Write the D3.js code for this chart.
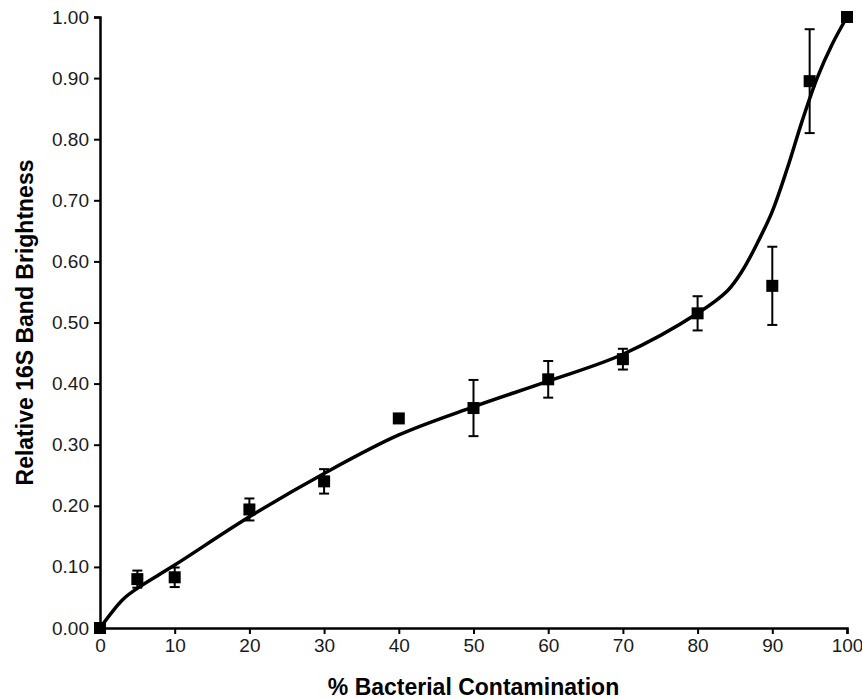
<!DOCTYPE html>
<html>
<head>
<meta charset="utf-8">
<script src="https://cdn.jsdelivr.net/npm/d3@7"></script>
<style>
    body { margin: 0; background: #fff; }
    svg { display: block; font-family: "Liberation Sans", Arial, sans-serif; }
</style>
</head>
<body>
<div id="chart"></div>
<script>
// Measured points: % contamination vs relative band brightness
const contamination = [0, 5, 10, 20, 30, 40, 50, 60, 70, 80, 90, 95, 100];
const brightness = [0.000, 0.080, 0.083, 0.194, 0.240, 0.343, 0.360, 0.407, 0.440, 0.515, 0.560, 0.895, 1.000];
const errors = [0, 0.014, 0.016, 0.018, 0.020, 0, 0.046, 0.030, 0.017, 0.028, 0.064, 0.085, 0];

// Fitted curve
const fitX = [0, 3, 5, 10, 20, 30, 40, 50, 60, 70, 80, 84, 86, 88, 90, 92, 94, 96, 98, 100];
const fitY = [0, 0.046, 0.065, 0.103, 0.182, 0.253, 0.316, 0.362, 0.404, 0.448, 0.515, 0.552, 0.585, 0.630, 0.682, 0.752, 0.830, 0.900, 0.955, 1.0];

const xTicks = [0, 10, 20, 30, 40, 50, 60, 70, 80, 90, 100];
const yTicks = [0, 0.1, 0.2, 0.3, 0.4, 0.5, 0.6, 0.7, 0.8, 0.9, 1.0];

const margin = { top: 17, right: 15, bottom: 71, left: 100 };
const width = 862 - margin.left - margin.right;
const height = 699 - margin.top - margin.bottom;

const svg = d3.select("#chart").append("svg")
    .attr("width", 862)
    .attr("height", 699);

const g = svg.append("g")
    .attr("transform", `translate(${margin.left},${margin.top})`);

const x = d3.scaleLinear().domain([0, 100]).range([0, 747]);
const y = d3.scaleLinear().domain([0, 1]).range([height, 0]);

// axes
const xAxis = g.append("g")
    .attr("transform", `translate(0,${height})`)
    .call(d3.axisBottom(x).tickValues(xTicks).tickSize(6).tickSizeOuter(6).tickPadding(5).tickFormat(d3.format("d")));

const yAxis = g.append("g")
    .call(d3.axisLeft(y).tickValues(yTicks).tickSize(6).tickSizeOuter(6).tickPadding(5).tickFormat(d3.format(".2f")));

[xAxis, yAxis].forEach(a => {
    a.select(".domain").attr("stroke", "#000").attr("stroke-width", 2.5);
    a.selectAll(".tick line").attr("stroke", "#000").attr("stroke-width", 2);
    a.selectAll("text")
        .style("font-size", "19px")
        .style("fill", "#1a1a1a")
        .style("font-family", "'Liberation Sans', Arial, sans-serif");
});

// fitted curve
const fit = fitX.map((v, i) => ({ x: v, y: fitY[i] }));
g.append("path")
    .datum(fit)
    .attr("fill", "none")
    .attr("stroke", "#000")
    .attr("stroke-width", 3.5)
    .attr("d", d3.line().x(d => x(d.x)).y(d => y(d.y)).curve(d3.curveCatmullRom.alpha(0.5)));

// error bars
const points = contamination.map((v, i) => ({ x: v, y: brightness[i], e: errors[i] }));
const bars = g.selectAll(".err")
    .data(points.filter(d => d.e > 0))
    .enter().append("g")
    .attr("class", "err")
    .attr("stroke", "#000")
    .attr("stroke-width", 2);

bars.append("line")
    .attr("x1", d => x(d.x)).attr("x2", d => x(d.x))
    .attr("y1", d => y(d.y - d.e)).attr("y2", d => y(d.y + d.e));
bars.append("line")
    .attr("x1", d => x(d.x) - 5).attr("x2", d => x(d.x) + 5)
    .attr("y1", d => y(d.y + d.e)).attr("y2", d => y(d.y + d.e));
bars.append("line")
    .attr("x1", d => x(d.x) - 5).attr("x2", d => x(d.x) + 5)
    .attr("y1", d => y(d.y - d.e)).attr("y2", d => y(d.y - d.e));

// square markers
g.selectAll(".pt")
    .data(points)
    .enter().append("rect")
    .attr("class", "pt")
    .attr("x", d => x(d.x) - 6)
    .attr("y", d => y(d.y) - 6)
    .attr("width", 12)
    .attr("height", 12)
    .attr("fill", "#000");

// axis titles
svg.append("text")
    .attr("x", margin.left + 747 / 2)
    .attr("y", 695)
    .attr("text-anchor", "middle")
    .style("font-size", "23px")
    .style("font-weight", "bold")
    .text("% Bacterial Contamination");

svg.append("text")
    .attr("transform", `translate(33,${margin.top + height / 2}) rotate(-90)`)
    .attr("text-anchor", "middle")
    .style("font-size", "23px")
    .style("font-weight", "bold")
    .text("Relative 16S Band Brightness");
</script>
</body>
</html>
